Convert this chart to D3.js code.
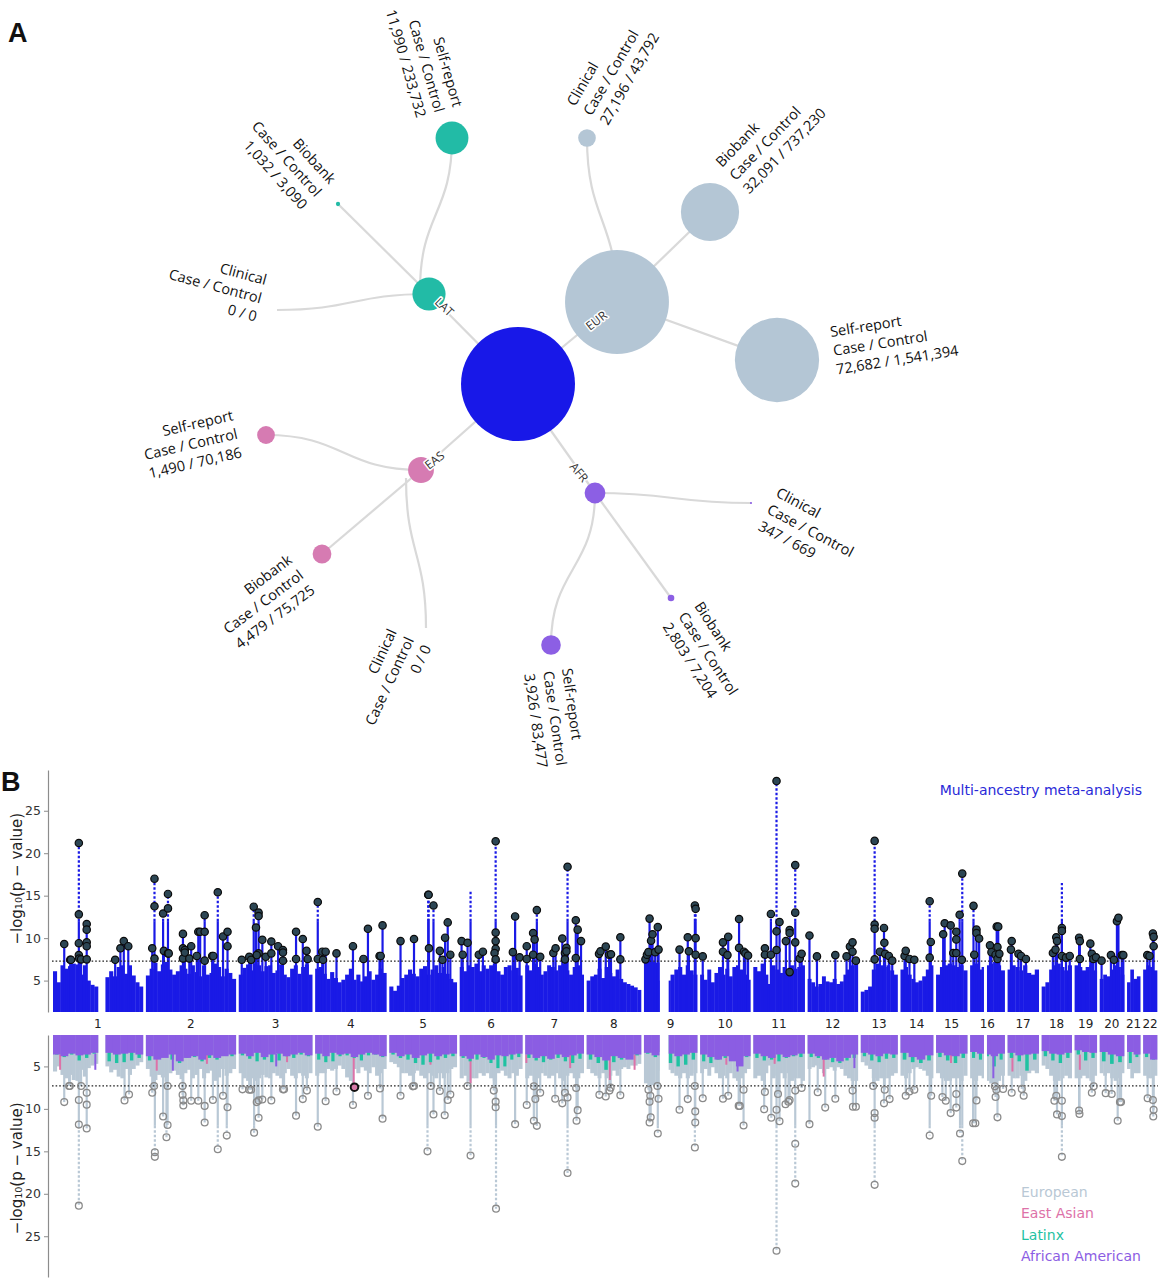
<!DOCTYPE html>
<html><head><meta charset="utf-8">
<script src="https://cdn.jsdelivr.net/npm/d3@7/dist/d3.min.js"></script>
<style>body{margin:0;background:#fff}svg{display:block}</style>
</head><body>
<svg id="c" width="1159" height="1280"></svg>
<script>
// ================= DATA =================
const ancestries = ["EUR", "LAT", "EAS", "AFR"];
const cohortTypes = ["Clinical", "Biobank", "Self-report"];
const casesEUR = [27196, 32091, 72682];
const controlsEUR = [43792, 737230, 1541394];
const casesLAT = [0, 1032, 11990];
const controlsLAT = [0, 3090, 233732];
const casesEAS = [0, 4479, 1490];
const controlsEAS = [0, 75725, 70186];
const casesAFR = [347, 2803, 3926];
const controlsAFR = [669, 7204, 83477];

const chromNames = ["1","2","3","4","5","6","7","8","9","10","11","12","13","14","15","16","17","18","19","20","21","22"];
const chrFirst = [0,0,0,0,0,0,0,0,0,0,0,0,19,20,20,0,0,0,0,0,13,15];
const chrLast = [240,240,196,190,180,167,156,145,142,134,137,134,117,107,103,92,83,80,59,65,48,52];
const chrGaps = [[1,120,140],[9,41,66],[16,36,45]];
const yTicks = [5, 10, 15, 20, 25];
const gwsThreshold = 7.3;

const metaBins = [
 [6.1,4.8,6.8,6.4,6.7,7.0,6.9,5.7,6.8,5.0,4.5,4.3,4.5,4.5,5.4,6.1,5.5,6.6,6.8,5.8,6.8,5.6,4.8,4.3],
 [5.6,6.4,7.1,6.1,6.9,7.2,6.3,5.7,6.1,6.8,6.4,5.8,6.8,6.0,5.5,6.8,5.7,5.9,7.0,6.6,5.5,6.4,5.9,5.2],
 [5.7,6.5,6.9,6.2,7.0,6.8,6.1,6.7,6.8,5.9,6.2,6.9,5.7,5.4,6.4,6.8,5.8,6.6,6.9,5.7],
 [6.4,6.6,5.8,5.2,6.0,5.3,4.8,5.1,5.7,6.4,5.1,5.7,4.9,5.5,6.1,5.1,5.7,6.4,5.9],
 [4.3,3.8,4.4,5.3,5.7,6.3,5.8,5.5,6.4,6.7,5.7,6.3,6.8,5.9,6.6,5.8,5.2,4.8],
 [6.6,6.1,6.8,6.6,7.0,6.1,6.8,6.4,6.8,7.0,6.1,5.7,6.6,6.8,6.2,6.5,5.6],
 [6.8,6.2,7.0,6.6,5.7,6.1,6.8,6.6,6.2,6.8,7.0,6.2,5.7,6.6,6.8,5.7],
 [5.0,5.5,5.7,6.4,5.3,6.6,5.9,5.5,6.3,5.2,4.8,4.6,4.4,4.2,3.9],
 [7.2,7.3,7.2,7.1,5.0,5.0,5.0,5.7,6.3,6.6,5.7,6.8,6.2,5.7],
 [5.7,5.1,6.3,4.8,5.9,6.6,5.7,6.4,5.5,6.6,6.8,6.3,5.7,5.1],
 [6.6,6.1,7.0,5.7,4.6,6.8,6.3,5.9,6.6,5.7,6.8,6.4,6.6,6.8],
 [5.2,4.8,4.3,4.6,5.5,4.9,4.8,5.2,4.6,4.9,5.7,6.3,6.8,7.0],
 [3.7,3.9,4.3,6.3,7.0,6.8,6.6,6.8,6.2,5.7],
 [6.3,6.6,5.7,5.2,4.8,5.0,5.5,6.3,6.8],
 [5.7,6.6,6.8,7.0,6.8,6.6,6.8,6.2],
 [6.8,7.0,6.3,6.6,6.8,7.0,7.2,6.8,6.2],
 [6.3,6.8,6.6,6.2,6.8,5.9,5.7,6.3],
 [4.3,4.8,6.3,6.8,7.0,6.6,6.2,6.8],
 [6.8,6.6,6.2,6.6,6.8,6.2],
 [5.2,5.7,5.5,6.3,6.8,6.6,5.7],
 [4.8,6.3,5.2,5.5],
 [6.3,6.8,6.6,6.2]
];
const metaLeads = [
 [1,30,9.3],[1,46,7.45],[1,48,7.45],[1,69,21.2],[1,69,12.8],[1,69,9.4],[1,69,8.0],[1,70,7.6],[1,75,7.5],[1,90,11.65],[1,90,11.0],[1,90,9.5],[1,90,9.05],[1,90,7.5],[1,166,7.45],[1,180,8.8],[1,189,9.65],[1,201,9.05],
 [2,17,8.8],[2,23,17.0],[2,23,13.75],[2,23,7.6],[2,46,12.9],[2,48,8.5],[2,59,15.2],[2,59,13.5],[2,59,8.2],[2,61,8.2],[2,99,10.5],[2,99,8.8],[2,99,7.6],[2,104,8.6],[2,104,8.3],[2,116,7.6],[2,121,9.05],[2,136,7.9],[2,140,10.75],[2,145,10.75],[2,157,12.7],[2,157,10.75],[2,157,7.35],[2,177,7.9],[2,180,7.9],[2,192,15.4],[2,206,10.2],[2,218,10.75],[2,218,9.05],
 [3,8,7.45],[3,28,7.8],[3,33,7.45],[3,40,13.7],[3,53,13.0],[3,53,12.6],[3,46,11.25],[3,53,8.2],[3,48,8.0],[3,63,9.8],[3,72,7.8],[3,87,9.6],[3,87,8.2],[3,105,9.05],[3,118,8.6],[3,118,8.3],[3,118,7.35],[3,153,10.75],[3,153,7.55],[3,171,9.9],[3,181,8.5],[3,184,7.55],
 [4,7,14.25],[4,7,7.55],[4,19,8.4],[4,28,8.4],[4,21,7.45],[4,57,8.2],[4,101,9.05],[4,129,7.55],[4,141,11.1],[4,172,7.9],[4,175,7.9],[4,180,11.5],
 [5,30,9.65],[5,66,9.9],[5,104,15.1],[5,105,15.1],[5,106,8.8],[5,118,13.85],[5,135,8.5],[5,142,7.45],[5,149,10.05],[5,156,11.85],[5,163,8.05],
 [6,5,9.65],[6,8,8.05],[6,21,9.45],[6,51,8.05],[6,62,8.4],[6,96,21.4],[6,96,10.65],[6,96,9.65],[6,96,8.75],[6,93,8.25],[6,96,7.5],[6,148,12.55],[6,142,8.35],[6,160,7.75],
 [7,4,9.05],[7,4,7.55],[7,21,10.6],[7,25,9.85],[7,21,8.05],[7,31,13.3],[7,40,7.8],[7,75,8.25],[7,81,8.8],[7,99,9.95],[7,106,8.25],[7,106,7.5],[7,110,8.85],[7,110,8.45],[7,113,18.4],[7,135,12.1],[7,140,11.0],[7,135,7.65],[7,149,9.65],
 [8,33,8.15],[8,37,8.45],[8,51,9.0],[8,60,8.05],[8,65,8.1],[8,90,10.1],[8,90,7.5],
 [9,4,7.5],[9,8,8.05],[9,12,8.35],[9,15,12.3],[9,19,9.7],[9,23,10.45],[9,30,8.35],[9,37,11.3],[9,39,8.65],[9,95,8.65],[9,117,10.1],[9,120,8.45],[9,136,13.85],[9,138,13.45],[9,138,10.0],[9,138,8.05],
 [10,7,7.85],[10,61,9.5],[10,75,10.15],[10,61,8.4],[10,73,8.0],[10,104,12.25],[10,104,8.85],[10,117,8.4],[10,121,8.2],[10,128,7.95],
 [11,31,8.8],[11,31,8.05],[11,47,12.85],[11,47,8.05],[11,62,28.5],[11,62,10.8],[11,62,8.6],[11,70,11.9],[11,87,9.65],[11,97,10.95],[11,97,10.6],[11,97,6.0],[11,112,18.6],[11,112,13.0],[11,112,9.5],[11,124,7.6],[11,129,8.15],
 [12,5,10.3],[12,25,7.85],[12,74,8.0],[12,104,7.85],[12,113,9.0],[12,120,9.5],[12,120,8.4],[12,129,7.35],
 [13,56,21.45],[13,56,11.6],[13,56,11.1],[13,56,7.5],[13,70,8.4],[13,81,11.2],[13,82,9.45],[13,84,8.15],[13,94,7.9],[13,103,7.35],
 [14,31,7.9],[14,34,8.5],[14,44,7.55],[14,57,7.45],[14,98,14.35],[14,101,9.55],[14,98,7.7],
 [15,39,10.45],[15,43,11.75],[15,59,11.5],[15,74,10.75],[15,74,9.85],[15,66,8.25],[15,74,8.25],[15,83,12.75],[15,90,17.6],[15,89,7.45],
 [16,9,13.8],[16,11,8.05],[16,17,11.0],[16,17,10.6],[16,24,9.95],[16,53,9.15],[16,57,8.35],[16,68,8.05],[16,73,8.95],[16,73,7.55],[16,78,8.15],[16,71,11.35],[16,75,11.35],
 [17,9,8.65],[17,11,9.65],[17,29,8.15],[17,36,7.9],[17,49,7.55],
 [18,30,8.25],[18,37,8.65],[18,39,10.1],[18,41,9.65],[18,54,11.2],[18,54,10.85],[18,54,7.9],[18,65,7.7],[18,75,7.9],
 [19,12,10.05],[19,14,9.65],[19,14,7.55],[19,42,9.35],[19,46,8.15],[19,50,7.55],[19,57,7.75],
 [20,5,7.35],[20,30,8.0],[20,38,7.45],[20,46,12.0],[20,50,12.4],[20,59,8.0],[20,63,8.0],
 [22,26,8.0],[22,32,7.9],[22,41,10.55],[22,43,10.15],[22,43,9.05]
];
const metaExtraTowers = [[6,29,15.7],[18,54,16.5]];

const eurBins = [
 [5.6,5.0,6.0,6.4,6.0,6.6,6.7,5.4,6.2,5.2,4.9,4.7,5.0,5.0,5.0,5.7,5.4,6.2,6.4,5.3,6.0,5.3,4.9,4.5],
 [5.3,6.2,6.6,6.0,6.3,6.8,5.8,5.5,6.0,6.5,5.8,5.4,6.4,6.0,5.3,6.4,5.8,5.5,6.7,6.3,5.3,6.1,5.8,5.3],
 [5.8,6.4,6.7,6.4,6.7,6.4,6.0,6.3,6.4,5.8,6.1,6.4,5.8,5.3,6.1,6.4,5.8,6.1,6.4,5.8],
 [6.1,5.8,5.8,5.3,5.5,5.3,4.9,5.3,6.3,6.7,5.3,5.8,5.1,5.5,5.8,5.1,6.1,5.8,5.3],
 [4.5,4.7,5.1,5.8,5.8,6.1,5.8,5.5,6.1,6.4,5.8,6.1,6.4,5.8,6.4,5.8,5.3,5.1],
 [6.4,6.1,6.7,6.4,6.4,5.8,6.1,5.8,6.4,6.7,5.8,5.5,6.1,6.4,5.8,6.1,5.3],
 [6.4,6.1,6.7,6.4,5.8,6.1,6.4,6.1,5.8,6.4,6.7,6.1,5.8,6.4,6.4,5.8],
 [5.3,5.8,6.1,6.4,5.8,6.4,6.1,5.5,6.1,5.3,5.1,5.3,4.9,4.9,4.7],
 [7.0,7.2,7.2,7.0,5.5,5.5,5.4,5.8,6.1,6.4,5.8,6.4,6.1,5.8],
 [5.8,5.3,6.1,5.1,5.8,6.4,6.1,6.4,5.8,6.4,6.7,6.4,5.8,5.3],
 [6.4,6.1,6.7,5.8,4.9,6.4,6.1,5.8,6.4,5.8,6.7,6.4,6.4,6.7],
 [5.3,5.1,4.9,5.3,5.8,5.3,5.1,5.5,5.1,5.3,6.1,6.4,6.7,6.7],
 [4.5,4.9,5.3,6.4,6.7,6.4,6.4,6.4,6.1,5.8],
 [6.1,6.4,5.8,5.3,5.1,5.3,5.5,6.1,6.4],
 [5.8,6.4,6.7,6.7,6.4,6.4,6.7,6.1],
 [6.4,6.7,6.1,6.4,6.7,7.0,7.0,6.7,6.1],
 [6.1,6.4,6.4,6.1,6.7,5.8,5.5,5.8],
 [4.9,5.3,6.1,6.7,6.7,6.4,6.1,6.4],
 [6.4,6.4,6.1,6.4,6.7,6.1],
 [5.8,6.1,5.8,6.4,6.7,6.4,5.8],
 [5.3,6.4,5.8,5.8],
 [6.1,6.4,6.4,6.1]
];
const latBins = [
 [3.6,3.9,3.6,4.3,4.0,3.5,3.5,4.4,4.6,4.5,4.3,4.0],
 [4.3,4.0,3.8,4.2,4.6,4.0,3.9,4.4,4.0,4.2,3.7,3.8],
 [3.7,4.1,4.4,4.2,4.5,4.3,3.8,4.0,3.6,3.8],
 [4.2,4.5,4.4,3.8,3.7,4.0,4.3,3.7,3.6,3.9],
 [3.6,4.0,4.2,4.6,4.8,4.5,4.2,4.0,3.8],
 [4.0,4.4,4.2,4.0,4.6,5.2,5.0,4.2,3.9],
 [4.0,4.3,4.5,4.2,4.0,4.4,4.6,4.1],
 [4.2,4.6,5.4,4.5,4.2,4.0,3.7],
 [3.5,3.9,3.4,4.6,5.0,4.8,4.2],
 [4.4,4.6,4.2,4.0,4.3,4.1,3.9],
 [4.0,4.3,4.2,4.4,4.0,3.8,3.9],
 [3.9,4.0,4.2,4.5,4.6,4.3,4.0],
 [3.8,4.3,4.5,4.1,4.0],
 [4.2,4.5,4.6,4.3],
 [3.9,4.3,4.6,4.0],
 [4.0,4.2,3.8,5.0,4.2],
 [4.0,4.4,5.5,4.2],
 [3.8,4.3,4.6,4.0],
 [3.6,4.3,4.0],
 [4.4,4.7,4.5],
 [4.6,3.9],
 [3.9,4.2]
];
const afrBins = [
 [3.6,3.8,3.5,3.7,3.6,3.4,3.3,3.4,3.6,3.5,3.4,3.6],
 [3.8,4.2,4.0,3.6,4.4,4.0,3.8,4.2,3.7,4.0,3.8,3.6],
 [3.5,3.8,3.4,3.9,3.6,3.5,3.8,3.6,3.4,3.7],
 [3.5,3.8,3.4,3.6,3.5,3.9,3.6,3.4,3.6,3.8],
 [3.4,3.8,3.6,4.0,3.7,3.5,3.8,3.6,3.5],
 [3.8,4.1,3.6,3.9,4.2,3.7,3.8,3.6,3.5],
 [3.6,4.0,3.8,4.1,3.6,3.9,3.7,3.5],
 [3.6,3.9,4.3,3.8,4.0,4.2,3.6],
 [3.4,3.7,3.3,3.5,3.8,3.6,3.4],
 [3.6,3.9,4.2,3.8,4.4,5.0,3.8],
 [3.5,3.8,4.0,3.6,3.9,3.7,3.5],
 [3.5,3.8,4.2,4.0,4.4,4.0,3.6],
 [3.4,3.6,3.8,3.5,3.6],
 [3.4,3.9,4.2,3.7],
 [3.4,3.7,3.8,3.5],
 [3.3,3.5,3.6,3.8,3.5],
 [3.4,3.7,3.6,3.5],
 [3.2,3.5,3.6,3.4],
 [3.1,3.3,3.4],
 [3.3,3.6,3.8],
 [3.3,3.6],
 [3.5,4.2]
];
const eastAsianSignals = [[1,19,5.4],[2,29,5.5],[2,163,4.7],[3,129,4.5],[4,103,7.3],[5,110,4.8],[6,29,7.0],[7,3,4.6],[7,120,5.2],[8,62,6.6],[8,128,5.4],[10,70,4.8],[11,57,4.7],[12,43,6.2],[15,60,4.6],[17,13,5.6],[19,14,5.4]];
const africanSignals = [[1,113,5.4],[2,72,5.5],[3,100,5.0],[10,100,5.6],[12,125,5.2],[16,62,6.4]];
const ancestryLeads = [
 [1,30,9.2],[1,43,7.3],[1,45,7.3],[1,69,8.95],[1,69,11.85],[1,69,21.4],[1,75,7.3],[1,90,8.1],[1,90,9.5],[1,90,12.3],[1,191,9.0],[1,203,8.3],
 [2,17,8.1],[2,22,7.3],[2,24,15.1],[2,24,15.65],[2,46,10.9],[2,58,11.9],[2,58,7.3],[2,55,13.35],[2,98,7.3],[2,98,8.35],[2,100,9.0],[2,100,9.6],[2,121,9.05],[2,140,9.05],[2,157,9.65],[2,157,11.6],[2,179,8.95],[2,192,14.75],[2,206,8.45],[2,218,9.8],[2,216,13.15],
 [3,10,7.7],[3,28,7.75],[3,33,7.75],[3,41,12.8],[3,48,9.2],[3,53,9.0],[3,53,11.05],[3,63,8.9],[3,87,9.0],[3,118,7.7],[3,121,7.7],[3,153,10.8],[3,171,8.85],[3,182,7.85],
 [4,7,12.1],[4,28,9.1],[4,57,7.95],[4,101,9.55],[4,141,8.45],[4,173,7.6],[4,180,11.15],
 [5,30,8.45],[5,63,7.35],[5,66,7.3],[5,102,15.0],[5,111,7.3],[5,118,10.65],[5,135,7.9],[5,148,10.75],[5,156,8.95],[5,163,8.3],
 [6,21,7.3],[6,29,15.5],[6,91,7.85],[6,96,9.15],[6,96,9.8],[6,97,21.75],[6,148,11.8],
 [7,4,9.55],[7,23,7.35],[7,27,8.85],[7,23,11.4],[7,31,12.0],[7,40,8.1],[7,80,8.8],[7,99,9.35],[7,106,8.1],[7,113,8.65],[7,113,17.55],[7,136,7.55],[7,140,10.15],[7,137,11.4],
 [8,34,8.35],[8,51,8.55],[8,61,7.85],[8,64,7.5],[8,90,8.4],
 [9,12,7.75],[9,17,8.45],[9,15,9.15],[9,18,11.0],[9,15,11.6],[9,36,7.3],[9,39,8.8],[9,37,12.9],[9,95,10.1],[9,117,8.85],[9,136,7.3],[9,137,10.3],[9,137,11.6],[9,136,14.55],
 [10,7,8.75],[10,61,8.8],[10,75,8.45],[10,103,9.65],[10,106,9.65],[10,116,7.75],[10,116,11.95],
 [11,29,10.05],[11,31,8.0],[11,48,11.05],[11,62,10.1],[11,62,26.7],[11,66,8.25],[11,70,11.45],[11,86,9.45],[11,94,9.15],[11,97,8.95],[11,112,7.85],[11,112,14.1],[11,112,18.8],[11,129,7.55],
 [12,5,11.8],[12,27,8.05],[12,47,9.85],[12,74,8.8],[12,120,7.85],[12,121,9.75],[12,129,9.75],
 [13,52,7.3],[13,56,10.5],[13,56,11.05],[13,56,18.95],[13,81,9.35],[13,83,7.75],[13,96,8.85],
 [14,34,8.45],[14,44,7.95],[14,57,7.75],[14,98,13.15],[14,102,8.45],
 [15,37,8.6],[15,46,9.05],[15,59,10.5],[15,74,8.25],[15,74,9.85],[15,84,12.9],[15,90,16.15],
 [16,8,11.7],[16,14,11.7],[16,17,9.0],[16,66,7.35],[16,70,7.75],[16,68,8.6],[16,73,11.0],[16,88,7.65],
 [17,11,8.1],[17,38,7.65],[17,43,8.45],
 [18,34,9.05],[18,39,8.45],[18,41,10.65],[18,54,9.05],[18,54,10.85],[18,54,15.65],
 [19,12,10.2],[19,13,10.6],[19,46,8.1],[19,51,7.35],
 [20,16,8.15],[20,32,8.25],[20,48,11.4],[20,54,9.2],[20,57,9.2],
 [22,27,8.75],[22,41,8.95],[22,43,10.1],[22,42,10.9]
];
const highlightedLead = [[4,105,7.45]];
const legendLabels = ["European", "East Asian", "Latinx", "African American"];
const panelTitle = "Multi-ancestry meta-analysis";

// ================= LAYOUT & STYLE =================
const colors = {root:"#1818e8", EUR:"#b4c6d5", LAT:"#22bba6", EAS:"#d67bb2", AFR:"#8c5fe4",
  meta:"#1a1ae6", eur:"#b9c8d5", eas:"#dd72a8", lat:"#1fc2a2", afr:"#8b5de3"};
const nodeXY = {
  root:[518,384], EUR:[617,302], LAT:[429,294], EAS:[421,470], AFR:[595,493],
  "EUR|Clinical":[587,138], "EUR|Biobank":[710,212], "EUR|Self-report":[777,360],
  "LAT|Clinical":[277,310], "LAT|Biobank":[338,204], "LAT|Self-report":[452,138],
  "EAS|Clinical":[426,628], "EAS|Biobank":[322,554], "EAS|Self-report":[266,435],
  "AFR|Clinical":[751,503], "AFR|Biobank":[671,598], "AFR|Self-report":[551,645]
};
const linkStyle = {
  "EUR|Clinical":{t:"v"}, "EUR|Biobank":{t:"l"}, "EUR|Self-report":{t:"l"},
  "LAT|Clinical":{t:"h"}, "LAT|Biobank":{t:"l"}, "LAT|Self-report":{t:"v", from:[420,290]},
  "EAS|Clinical":{t:"v", from:[406,478]}, "EAS|Biobank":{t:"l"}, "EAS|Self-report":{t:"h"},
  "AFR|Clinical":{t:"h"}, "AFR|Biobank":{t:"l"}, "AFR|Self-report":{t:"v"}
};
const labelPos = {
  "EUR|Clinical":[575,107,-60,"start"], "EUR|Biobank":[722,168,-46,"start"], "EUR|Self-report":[831,337,-9,"start"],
  "LAT|Clinical":[265,285,15,"end"], "LAT|Biobank":[329,185,48,"end"], "LAT|Self-report":[453,108,74,"end"],
  "EAS|Clinical":[397,632,-65,"end"], "EAS|Biobank":[293,562,-37,"end"], "EAS|Self-report":[234,420,-13,"end"],
  "AFR|Clinical":[775,496,28,"start"], "AFR|Biobank":[694,606,57,"start"], "AFR|Self-report":[562,669,82,"start"]
};
const namePos = {EUR:[590,331,-38], LAT:[434,303,44], EAS:[429,470,-38], AFR:[569,467,50]};

// ================= DRAW =================
const svg = d3.select("#c");
const fmt = d3.format(",");
const caseArr = {EUR:casesEUR, LAT:casesLAT, EAS:casesEAS, AFR:casesAFR};
const ctrlArr = {EUR:controlsEUR, LAT:controlsLAT, EAS:controlsEAS, AFR:controlsAFR};

const leaves = [];
ancestries.forEach(a => cohortTypes.forEach((t,i) => leaves.push({a, t, key:a+"|"+t, cases:caseArr[a][i], controls:ctrlArr[a][i], n:caseArr[a][i]+ctrlArr[a][i]})));
const groupN = ancestries.map(a => ({a, n:d3.sum(leaves.filter(l=>l.a===a), l=>l.n)}));
const rootN = d3.sum(groupN, g=>g.n);
const r = d3.scaleSqrt().domain([0, rootN]).range([0, 57]);

const gA = svg.append("g");
const linkV = d3.linkVertical().x(d=>d[0]).y(d=>d[1]);
const linkH = d3.linkHorizontal().x(d=>d[0]).y(d=>d[1]);
const linkC = "#d9d9d9";
groupN.forEach(g => gA.append("line").attr("x1",nodeXY.root[0]).attr("y1",nodeXY.root[1])
  .attr("x2",nodeXY[g.a][0]).attr("y2",nodeXY[g.a][1]).attr("stroke",linkC).attr("stroke-width",2.2));
leaves.forEach(l => {
  const st = linkStyle[l.key];
  const s = st.from || nodeXY[l.a], t = nodeXY[l.key];
  let d;
  if (st.t==="v") d = linkV({source:s, target:t});
  else if (st.t==="h") d = linkH({source:s, target:t});
  else d = `M${s[0]},${s[1]}L${t[0]},${t[1]}`;
  gA.append("path").attr("d",d).attr("fill","none").attr("stroke",linkC).attr("stroke-width",2.2);
});
gA.append("circle").attr("cx",nodeXY.root[0]).attr("cy",nodeXY.root[1]).attr("r",r(rootN)).attr("fill",colors.root);
groupN.forEach(g => gA.append("circle").attr("cx",nodeXY[g.a][0]).attr("cy",nodeXY[g.a][1]).attr("r",r(g.n)).attr("fill",colors[g.a]));
leaves.filter(l=>l.n>0).forEach(l => gA.append("circle").attr("cx",nodeXY[l.key][0]).attr("cy",nodeXY[l.key][1])
  .attr("r",Math.max(1,r(l.n))).attr("fill",colors[l.a]));
ancestries.forEach(a => {
  const p = namePos[a];
  gA.append("text").attr("transform",`translate(${p[0]},${p[1]}) rotate(${p[2]})`)
    .attr("font-family","Open Sans").attr("font-size",12).attr("fill","#333")
    .attr("stroke","#fff").attr("stroke-width",3).attr("paint-order","stroke").attr("stroke-linejoin","round").text(a);
});
leaves.forEach(l => {
  const p = labelPos[l.key];
  const t = gA.append("text").attr("transform",`translate(${p[0]},${p[1]}) rotate(${p[2]})`)
    .attr("text-anchor",p[3]).attr("font-family","Open Sans").attr("font-size",14.5).attr("fill","#111");
  [l.t, "Case / Control", `${fmt(l.cases)} / ${fmt(l.controls)}`].forEach((s,i) =>
    t.append("tspan").attr("x",0).attr("y",i*19).text(s));
});
svg.append("text").attr("x",8).attr("y",42).attr("font-family","Liberation Sans").attr("font-weight","bold").attr("font-size",27).attr("fill","#111").text("A");
svg.append("text").attr("x",1).attr("y",791).attr("font-family","Liberation Sans").attr("font-weight","bold").attr("font-size",27).attr("fill","#111").text("B");

// ---------- Panel B ----------
const GAP = 8;
const offset = []; let acc = 0;
chromNames.forEach((c,i) => { offset[i] = acc - chrFirst[i]; acc += chrLast[i]-chrFirst[i] + GAP; });
const x = d3.scaleLinear().domain([0, acc-GAP]).range([53, 1157]);
const gx = (c,pos) => x(offset[c-1] + pos);
const yTop = d3.scaleLinear().domain([1.3, 29.8]).range([1012, 770]);
const yBot = d3.scaleLinear().domain([1.3, 29.8]).range([1035, 1277]);

function pieces(c, a, b) {
  let s = [[a,b]];
  chrGaps.filter(g=>g[0]===c).forEach(g => {
    s = s.flatMap(([p,q]) => {
      if (q<=g[1] || p>=g[2]) return [[p,q]];
      const out = []; if (p<g[1]) out.push([p,g[1]]); if (q>g[2]) out.push([g[2],q]); return out;
    });
  });
  return s;
}
function drawBins(g, bins, yS, color, widthFrac) {
  bins.forEach((arr, i) => {
    const c = i+1, span = chrLast[i]-chrFirst[i], w = span/arr.length;
    arr.forEach((v, j) => {
      const a = chrFirst[i] + j*w, b = a + w;
      const ca = widthFrac < 1 ? a + w*(1-widthFrac)/2 : a;
      const cb = widthFrac < 1 ? b - w*(1-widthFrac)/2 : b;
      pieces(c, ca, cb).forEach(([p,q]) => {
        const x0 = gx(c,p), x1 = gx(c,q) + (widthFrac<1?0:0.35);
        const y0 = yS(1.3), y1 = yS(v);
        g.append("rect").attr("x",x0).attr("width",Math.max(0.5,x1-x0))
          .attr("y",Math.min(y0,y1)).attr("height",Math.abs(y1-y0)).attr("fill",color);
      });
    });
  });
}
function drawTowers(g, leadsArr, extra, yS, color) {
  const tops = d3.rollups(leadsArr, v=>d3.max(v,d=>d[2]), d=>d[0]+"_"+d[1])
    .map(([k,m]) => { const [c,p] = k.split("_").map(Number); return [c,p,m]; }).concat(extra);
  tops.forEach(([c,p,m]) => {
    const xx = gx(c,p), mid = Math.min(m, 12);
    g.append("line").attr("x1",xx).attr("x2",xx).attr("y1",yS(1.3)).attr("y2",yS(mid)).attr("stroke",color).attr("stroke-width",2.2);
    if (m > 12) g.append("line").attr("x1",xx).attr("x2",xx).attr("y1",yS(12)).attr("y2",yS(m))
      .attr("stroke",color).attr("stroke-width",2.2).attr("stroke-dasharray","2.5,2");
  });
}
function signals(g, arr, yS, color, from) {
  arr.forEach(([c,p,v]) => g.append("line").attr("x1",gx(c,p)).attr("x2",gx(c,p)).attr("y1",yS(from)).attr("y2",yS(v))
    .attr("stroke",color).attr("stroke-width",2));
}

const gT = svg.append("g");
drawBins(gT, metaBins, yTop, colors.meta, 1);
drawTowers(gT, metaLeads, metaExtraTowers, yTop, colors.meta);
gT.append("line").attr("x1",52).attr("x2",1158).attr("y1",yTop(gwsThreshold)).attr("y2",yTop(gwsThreshold))
  .attr("stroke","#222").attr("stroke-width",1.2).attr("stroke-dasharray","1.6,2");
gT.selectAll("circle.lead").data(metaLeads).join("circle").attr("class","lead")
  .attr("cx",d=>gx(d[0],d[1])).attr("cy",d=>yTop(d[2])).attr("r",3.7)
  .attr("fill","#2c4654").attr("stroke","#0b0b0b").attr("stroke-width",1.2);

const gB = svg.append("g");
drawBins(gB, eurBins, yBot, colors.eur, 1);
drawTowers(gB, ancestryLeads, [], yBot, colors.eur);
signals(gB, eastAsianSignals, yBot, colors.eas, 3.6);
drawBins(gB, latBins, yBot, colors.lat, 0.45);
signals(gB, africanSignals, yBot, colors.afr, 3.5);
drawBins(gB, afrBins, yBot, colors.afr, 1);
gB.append("line").attr("x1",52).attr("x2",1158).attr("y1",yBot(gwsThreshold)).attr("y2",yBot(gwsThreshold))
  .attr("stroke","#222").attr("stroke-width",1.2).attr("stroke-dasharray","1.6,2");
gB.selectAll("circle.lead").data(ancestryLeads).join("circle").attr("class","lead")
  .attr("cx",d=>gx(d[0],d[1])).attr("cy",d=>yBot(d[2])).attr("r",3.4)
  .attr("fill","none").attr("stroke","#8a8a8a").attr("stroke-width",1.3);
gB.selectAll("circle.hl").data(highlightedLead).join("circle").attr("class","hl")
  .attr("cx",d=>gx(d[0],d[1])).attr("cy",d=>yBot(d[2])).attr("r",3.8)
  .attr("fill","#d77aa8").attr("stroke","#111").attr("stroke-width",2);

function styleAxis(g) {
  g.select(".domain").attr("stroke","#8c8c8c").attr("stroke-width",1.2);
  g.selectAll(".tick line").attr("stroke","#8c8c8c");
  g.selectAll(".tick text").attr("fill","#333").attr("font-family","DejaVu Sans").attr("font-size",12.5);
}
svg.append("g").attr("transform","translate(48,0)").call(d3.axisLeft(yTop).tickValues(yTicks).tickSize(4).tickSizeOuter(0)).call(styleAxis);
svg.append("g").attr("transform","translate(48,0)").call(d3.axisLeft(yBot).tickValues(yTicks).tickSize(4).tickSizeOuter(0)).call(styleAxis);
[yTop, yBot].forEach(yS => svg.append("text").attr("transform",`translate(22,${(yS(10)+yS(24))/2}) rotate(-90)`)
  .attr("text-anchor","middle").attr("font-family","DejaVu Sans").attr("font-size",15).attr("fill","#222").text("−log₁₀(p − value)"));

chromNames.forEach((c,i) => svg.append("text").attr("x",gx(i+1,(chrFirst[i]+chrLast[i])/2)).attr("y",1028)
  .attr("text-anchor","middle").attr("font-family","DejaVu Sans").attr("font-size",12).attr("fill","#222").text(c));

svg.append("text").attr("x",1142).attr("y",795).attr("text-anchor","end").attr("font-family","DejaVu Sans")
  .attr("font-size",14).attr("fill","#2a2ad8").text(panelTitle);
const legColors = [colors.eur, colors.eas, colors.lat, colors.afr];
legendLabels.forEach((s,i) => svg.append("text").attr("x",1021).attr("y",1197 + i*21.3)
  .attr("font-family","DejaVu Sans").attr("font-size",14).attr("fill",legColors[i]).text(s));
</script>
</body></html>
